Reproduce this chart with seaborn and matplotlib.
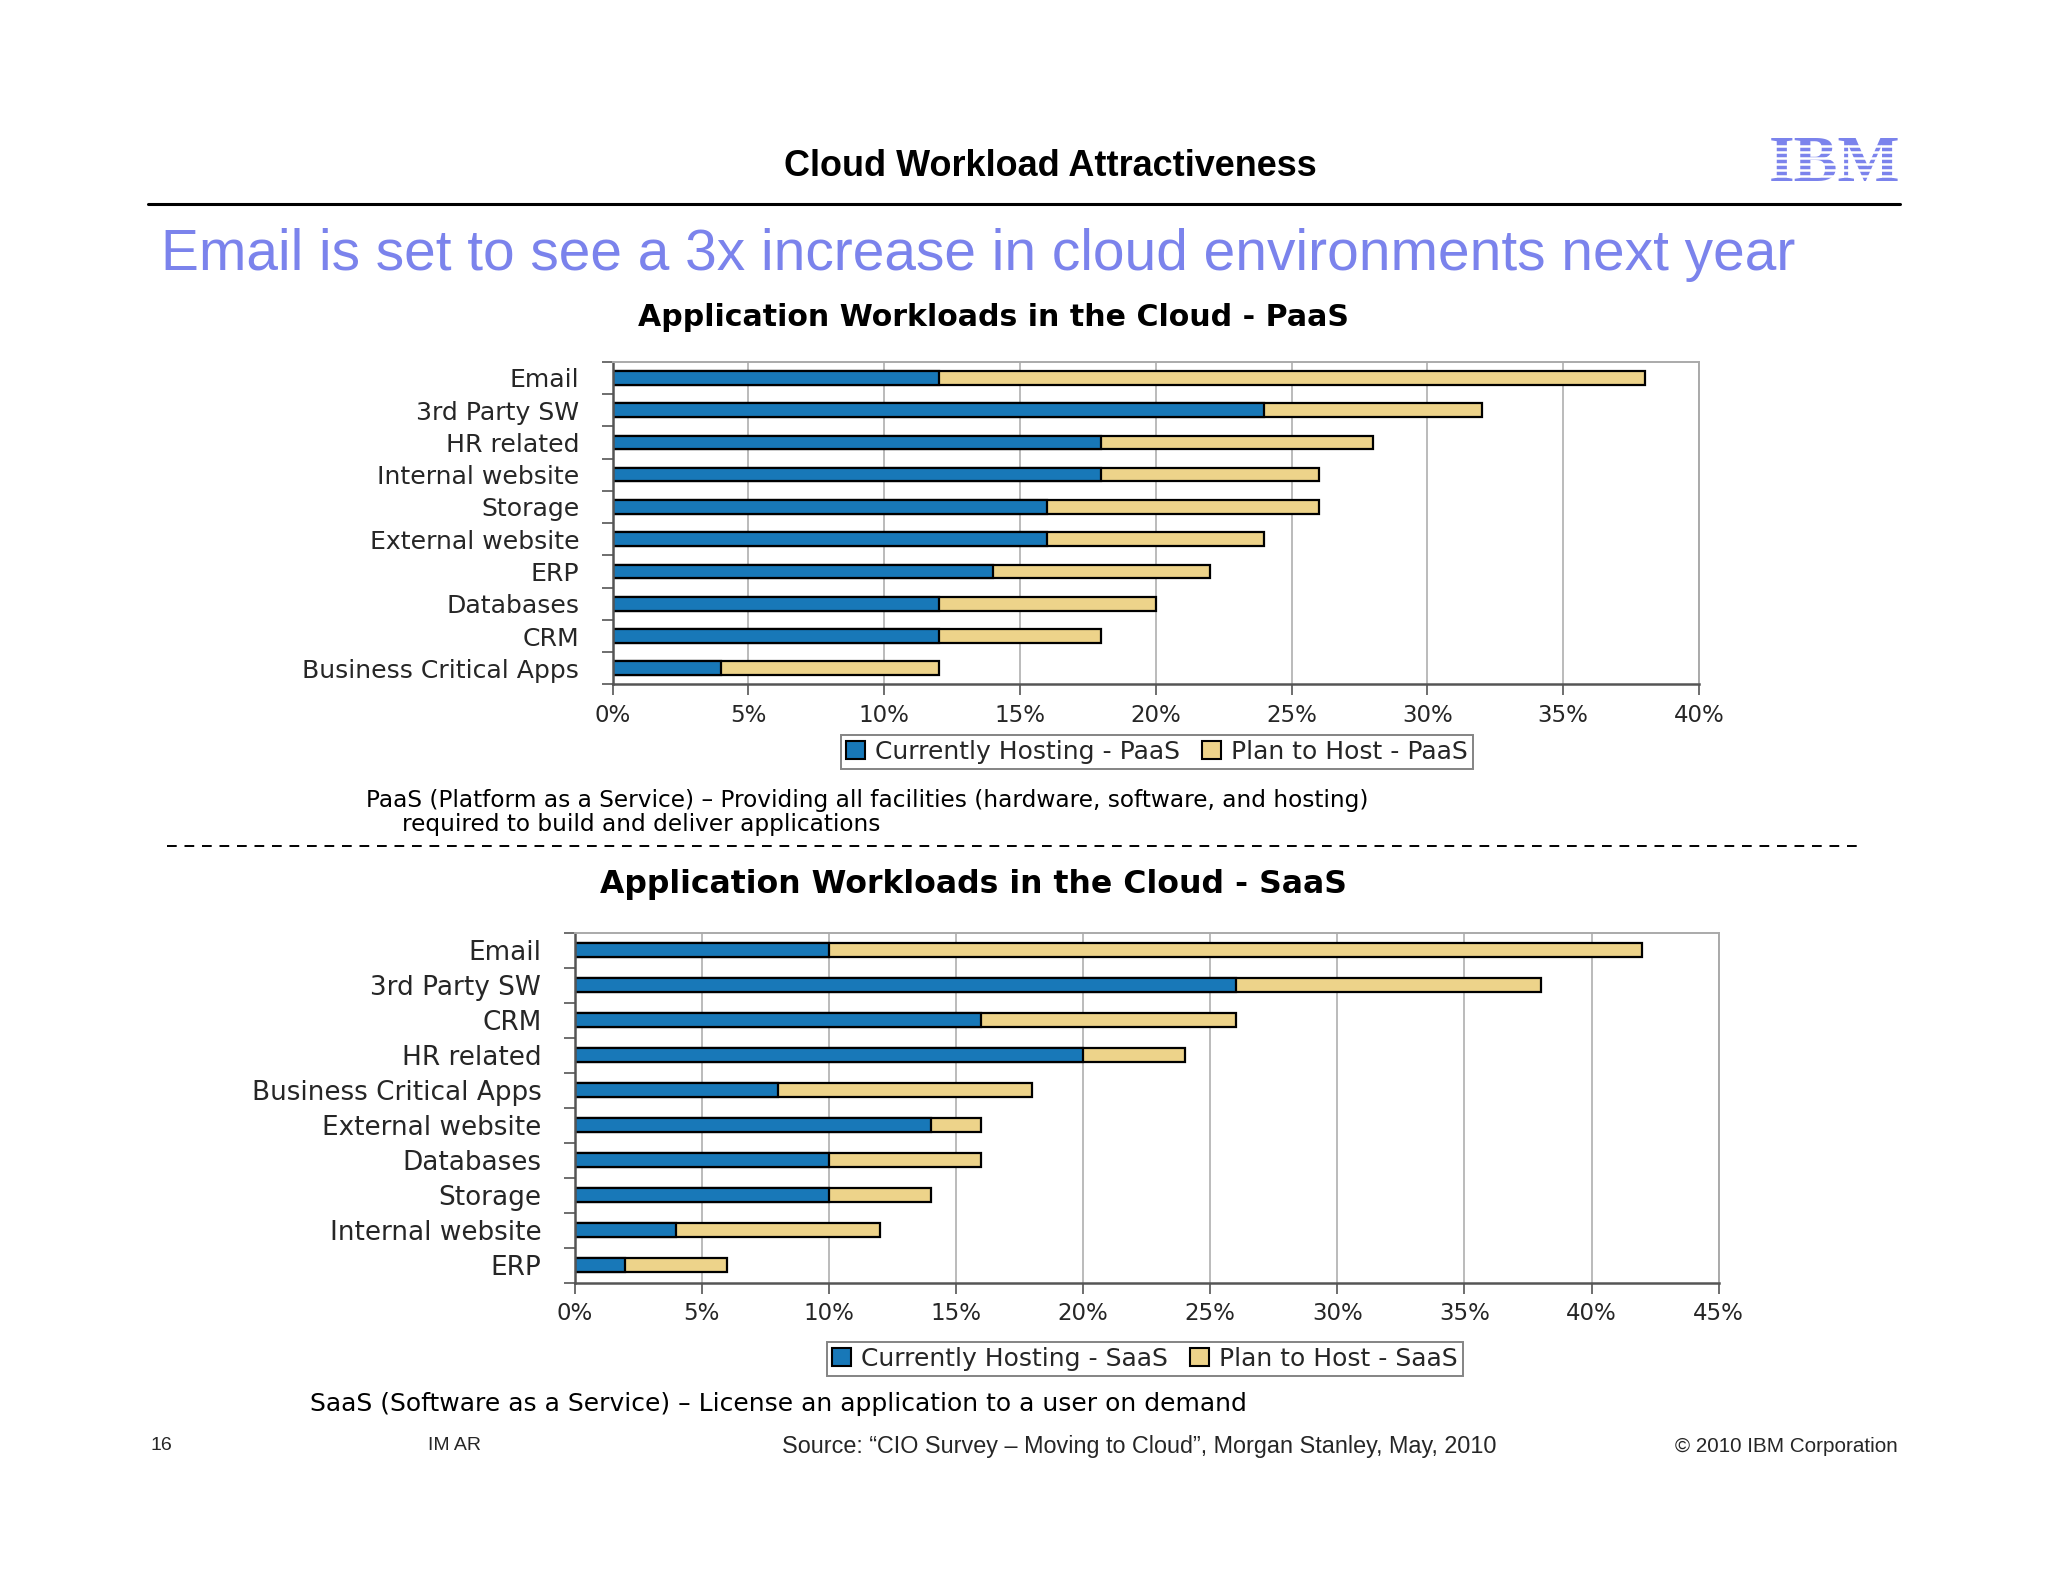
import matplotlib
matplotlib.use("Agg")
import matplotlib.pyplot as plt
from matplotlib.patches import Patch
import seaborn as sns
import pandas as pd
import numpy as np

# ---------------- data ----------------
paas_apps = ["Email", "3rd Party SW", "HR related", "Internal website", "Storage",
             "External website", "ERP", "Databases", "CRM", "Business Critical Apps"]
paas_current = [12, 24, 18, 18, 16, 16, 14, 12, 12, 4]
paas_plan = [26, 8, 10, 8, 10, 8, 8, 8, 6, 8]

saas_apps = ["Email", "3rd Party SW", "CRM", "HR related", "Business Critical Apps",
             "External website", "Databases", "Storage", "Internal website", "ERP"]
saas_current = [10, 26, 16, 20, 8, 14, 10, 10, 4, 2]
saas_plan = [32, 12, 10, 4, 10, 2, 6, 4, 8, 4]

paas_ticks = ["0%", "5%", "10%", "15%", "20%", "25%", "30%", "35%", "40%"]
saas_ticks = ["0%", "5%", "10%", "15%", "20%", "25%", "30%", "35%", "40%", "45%"]

BLUE = "#1878B8"
TAN = "#EDD38A"
SLIDE_BLUE = "#7B83EC"

sns.set_theme(style="white")
plt.rcParams["font.family"] = ["DejaVu Sans"]

W, H = 2048, 1582
fig = plt.figure(figsize=(W / 100, H / 100), dpi=100)
fig.patch.set_facecolor("white")
renderer = fig.canvas.get_renderer()

SHRINK = 0.82  # reference chart text is horizontally stretched; keep its height


def ftext(x, y, s, target_w=None, size=12, factor=1.0, **kw):
    t = fig.text(x / W, 1 - y / H, s, fontsize=size, **kw)
    if target_w is not None:
        w = t.get_window_extent(renderer).width
        t.set_fontsize(size * target_w / w * factor)
    return t


def size_for(s, target_w, **kw):
    t = fig.text(0, 0, s, fontsize=10, **kw)
    w = t.get_window_extent(renderer).width
    t.remove()
    return 10 * target_w / w


def draw_chart(rect, apps, current, plan, ticks, xmax, label_size, tick_size):
    ax = fig.add_axes(rect)
    df = pd.DataFrame({"app": apps,
                       "current": current,
                       "total": np.array(current) + np.array(plan)})
    sns.barplot(data=df, y="app", x="total", order=apps, color=TAN,
                edgecolor="black", linewidth=1.6, width=0.42, orient="h",
                saturation=1, ax=ax)
    sns.barplot(data=df, y="app", x="current", order=apps, color=BLUE,
                edgecolor="black", linewidth=1.6, width=0.42, orient="h",
                saturation=1, ax=ax)
    ax.set_xlim(0, xmax)
    ax.set_ylim(len(apps) - 0.5, -0.5)
    xt = np.arange(0, xmax + 0.1, 5)
    ax.set_xticks(xt)
    ax.set_xticklabels(ticks, fontsize=tick_size)
    ax.set_yticks(range(len(apps)))
    ax.set_yticklabels(apps, fontsize=label_size)
    ax.set_yticks(np.arange(-0.5, len(apps), 1), minor=True)
    ax.tick_params(axis="y", which="major", length=0, pad=24)
    ax.tick_params(axis="y", which="minor", length=8, width=1.2, color="#555555", left=True)
    ax.tick_params(axis="x", which="major", length=8, width=1.2, color="#555555",
                   bottom=True, pad=6)
    ax.set_xlabel("")
    ax.set_ylabel("")
    ax.grid(axis="x", color="#BBBBBB", linewidth=1.4)
    ax.set_axisbelow(True)
    for side in ("top", "right"):
        ax.spines[side].set_color("#AAAAAA")
        ax.spines[side].set_linewidth(1.4)
    for side in ("left", "bottom"):
        ax.spines[side].set_color("#555555")
        ax.spines[side].set_linewidth(1.8)
    return ax


# ---------------- slide header ----------------
ftext(1050, 167, "Cloud Workload Attractiveness", target_w=534, size=24,
      family="Liberation Sans", weight="bold", ha="center", va="center", color="black")
fig.add_artist(plt.Line2D([148 / W, 1900 / W], [1 - 204 / H, 1 - 204 / H],
                          color="black", linewidth=2.2))
ftext(161, 255, "Email is set to see a 3x increase in cloud environments next year",
      target_w=1634, size=40, family="Liberation Sans", ha="left", va="center",
      color=SLIDE_BLUE)

# IBM logo (striped)
ftext(1900, 165, "IBM", target_w=124, size=40, factor=1.06, family="Liberation Serif",
      weight="bold", ha="right", va="center", color=SLIDE_BLUE)
for k in range(7):
    yy = 146.0 + k * 6.0
    fig.add_artist(plt.Line2D([1765 / W, 1912 / W], [1 - yy / H, 1 - yy / H],
                              color="white", linewidth=1.8, zorder=10))

# ---------------- PaaS chart ----------------
lab_size = size_for("Business Critical Apps", 337) * SHRINK
tick_size = size_for("10%", 55) * 0.92
ftext(993, 317, "Application Workloads in the Cloud - PaaS", target_w=828, size=20,
      factor=0.86, weight="bold", ha="center", va="center", color="black")
ax1 = draw_chart([612.6 / W, 1 - 684.4 / H, (1699 - 612.6) / W, (684.4 - 361.8) / H],
                 paas_apps, paas_current, paas_plan, paas_ticks, 40, lab_size, tick_size)

leg_size = size_for("Currently Hosting - PaaS", 371) * SHRINK
handles = [Patch(facecolor=BLUE, edgecolor="black", linewidth=1.5),
           Patch(facecolor=TAN, edgecolor="black", linewidth=1.5)]
l1 = fig.legend(handles, ["Currently Hosting - PaaS", "Plan to Host - PaaS"],
                loc="center", bbox_to_anchor=(1157 / W, 1 - 752 / H), ncol=2,
                fontsize=leg_size, frameon=True, fancybox=False, edgecolor="#666666",
                handlelength=0.75, handleheight=0.75, handletextpad=0.4,
                columnspacing=0.9, borderpad=0.2, borderaxespad=0)
l1.get_frame().set_linewidth(1.4)

d1 = ftext(366, 801, "PaaS (Platform as a Service) \u2013 Providing all facilities (hardware, software, and hosting)",
           target_w=1328, size=16, factor=0.76, ha="left", va="center", color="black")
ftext(402, 824, "required to build and deliver applications",
      size=d1.get_fontsize(), ha="left", va="center", color="black")

fig.add_artist(plt.Line2D([167 / W, 1857 / W], [1 - 846 / H, 1 - 846 / H],
                          color="black", linewidth=1.4, linestyle=(0, (5, 4))))

# ---------------- SaaS chart ----------------
lab_size2 = size_for("Business Critical Apps", 352) * SHRINK
ftext(973, 885, "Application Workloads in the Cloud - SaaS", target_w=870, size=20,
      factor=0.86, weight="bold", ha="center", va="center", color="black")
ax2 = draw_chart([574.6 / W, 1 - 1282.5 / H, (1718.7 - 574.6) / W, (1282.5 - 932.5) / H],
                 saas_apps, saas_current, saas_plan, saas_ticks, 45, lab_size2, tick_size)

l2 = fig.legend(handles, ["Currently Hosting - SaaS", "Plan to Host - SaaS"],
                loc="center", bbox_to_anchor=(1145 / W, 1 - 1359 / H), ncol=2,
                fontsize=leg_size, frameon=True, fancybox=False, edgecolor="#666666",
                handlelength=0.75, handleheight=0.75, handletextpad=0.4,
                columnspacing=0.9, borderpad=0.2, borderaxespad=0)
l2.get_frame().set_linewidth(1.4)

ftext(310, 1404, "SaaS (Software as a Service) \u2013 License an application to a user on demand",
      target_w=1205, size=16, factor=0.78, ha="left", va="center", color="black")

# ---------------- footer ----------------
ftext(150, 1446, "16", size=14, family="Liberation Sans", ha="left", va="center")
ftext(428, 1446, "IM AR", size=14, family="Liberation Sans", ha="left", va="center")
ftext(1139, 1446, "Source: \u201cCIO Survey \u2013 Moving to Cloud\u201d, Morgan Stanley, May, 2010",
      target_w=713, size=16, family="Liberation Sans", ha="center", va="center")
ftext(1898, 1446, "\u00a9 2010 IBM Corporation", target_w=224, size=14,
      family="Liberation Sans", ha="right", va="center")

fig.savefig("out.png", dpi=100, facecolor="white")
